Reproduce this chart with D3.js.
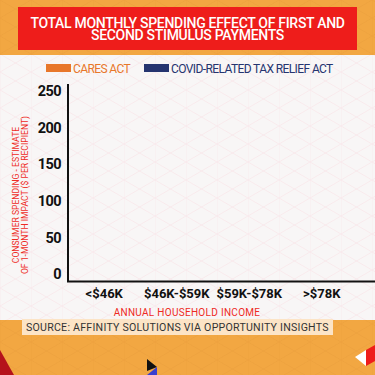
<!DOCTYPE html>
<html>
<head>
<meta charset="utf-8">
<script src="https://cdn.jsdelivr.net/npm/d3@7"></script>
<style>
  body { margin: 0; background: #f2a742; }
  svg { display: block; font-family: Roboto, "Noto Sans", sans-serif; }
</style>
</head>
<body>
<svg id="chart"></svg>
<script>
// chart data
const categories = ["<$46K", "$46K-$59K", "$59K-$78K", ">$78K"];
const seriesNames = ["CARES ACT", "COVID-RELATED TAX RELIEF ACT"];
const caresAct = [0, 0, 0, 0];
const taxReliefAct = [0, 0, 0, 0];
const yTicks = [0, 50, 100, 150, 200, 250];

const W = 375, H = 375;
const colors = ["#e8772a", "#25346f"];

const svg = d3.select("#chart").attr("width", W).attr("height", H);

// background patterns
const defs = svg.append("defs");
const pw = 31, ph = 18;
const pLight = defs.append("pattern").attr("id", "gridLight")
  .attr("patternUnits", "userSpaceOnUse").attr("width", pw).attr("height", ph);
pLight.append("rect").attr("width", pw).attr("height", ph).attr("fill", "#f8f6f6");
pLight.append("path").attr("d", `M0,0L${pw},${ph}M${pw},0L0,${ph}M0,0V${ph}`)
  .attr("stroke", "#f9e3e5").attr("stroke-width", 0.6).attr("fill", "none");

const pOrange = defs.append("pattern").attr("id", "gridOrange")
  .attr("patternUnits", "userSpaceOnUse").attr("width", pw).attr("height", ph);
pOrange.append("rect").attr("width", pw).attr("height", ph).attr("fill", "#f2a742");
pOrange.append("path").attr("d", `M0,0L${pw},${ph}M${pw},0L0,${ph}M0,0V${ph}`)
  .attr("stroke", "#eb9f3d").attr("stroke-width", 0.6).attr("fill", "none");

svg.append("rect").attr("width", W).attr("height", H).attr("fill", "url(#gridOrange)");
svg.append("rect").attr("y", 55).attr("width", W).attr("height", 265).attr("fill", "url(#gridLight)");

// title box
svg.append("rect").attr("x", 18).attr("y", 7).attr("width", 339).attr("height", 43).attr("fill", "#ee1d1b");
const title = svg.append("text").attr("x", 187.5).attr("text-anchor", "middle")
  .attr("fill", "#fff").attr("font-size", 14).attr("font-weight", 500)
  .attr("letter-spacing", -0.3);
title.append("tspan").attr("x", 187.5).attr("y", 27.5).text("TOTAL MONTHLY SPENDING EFFECT OF FIRST AND");
title.append("tspan").attr("x", 187.5).attr("y", 40).text("SECOND STIMULUS PAYMENTS");

// legend
const legendX = [46, 144];
seriesNames.forEach((name, i) => {
  svg.append("rect").attr("x", legendX[i]).attr("y", 64).attr("width", 25).attr("height", 8)
    .attr("fill", colors[i]);
  svg.append("text").attr("x", legendX[i] + 27).attr("y", 73)
    .attr("font-size", 12).attr("letter-spacing", -0.6).attr("fill", colors[i]).text(name);
});

// scales
const left = 68, right = 358;
const x0 = d3.scaleBand().domain(categories).range([left, right]).paddingInner(0.2).paddingOuter(0.1);
const x1 = d3.scaleBand().domain([0, 1]).range([0, x0.bandwidth()]);
const y = d3.scaleLinear().domain([0, 250]).range([274, 91]);

// bars
const groups = svg.append("g").selectAll("g").data(categories).join("g")
  .attr("transform", (d) => `translate(${x0(d)},0)`);
groups.selectAll("rect")
  .data((d, i) => [caresAct[i], taxReliefAct[i]])
  .join("rect")
  .attr("x", (d, j) => x1(j))
  .attr("width", x1.bandwidth())
  .attr("y", (d) => y(d))
  .attr("height", (d) => y(0) - y(d))
  .attr("fill", (d, j) => colors[j]);

// y axis
const yAxis = svg.append("g").attr("transform", `translate(${left},0)`)
  .call(d3.axisLeft(y).tickValues(yTicks).tickSize(0).tickPadding(7));
yAxis.select(".domain").remove();
yAxis.selectAll("text").attr("font-size", 14.5).attr("font-weight", 700)
  .attr("fill", "#111").attr("font-family", "Roboto, sans-serif").attr("letter-spacing", -0.6);

// axis lines
svg.append("path").attr("d", `M${left},84V281.5H${W}`)
  .attr("stroke", "#111").attr("stroke-width", 2).attr("fill", "none");

// x axis labels
const xAxis = svg.append("g").attr("transform", "translate(0,289)")
  .call(d3.axisBottom(x0).tickSize(0).tickPadding(0));
xAxis.select(".domain").remove();
xAxis.selectAll("text").attr("font-size", 13).attr("font-weight", 700)
  .attr("fill", "#111").attr("font-family", "Roboto, sans-serif").attr("dy", "0.71em");

// axis titles
svg.append("text").attr("x", 187).attr("y", 315.5).attr("text-anchor", "middle")
  .attr("font-size", 10).attr("fill", "#ee2a24").attr("letter-spacing", 0.3)
  .text("ANNUAL HOUSEHOLD INCOME");

const yTitle = svg.append("text").attr("transform", "translate(0,195) rotate(-90)")
  .attr("text-anchor", "middle").attr("font-size", 8.6).attr("fill", "#ee2a24");
yTitle.append("tspan").attr("x", 0).attr("y", 19).text("CONSUMER SPENDING - ESTIMATE");
yTitle.append("tspan").attr("x", 0).attr("y", 27.5).text("OF 1-MONTH IMPACT ($ PER RECIPIENT)");

// source box
svg.append("rect").attr("x", 22).attr("y", 319).attr("width", 311).attr("height", 16).attr("fill", "#fce4c6");
svg.append("text").attr("x", 26).attr("y", 331).attr("font-size", 10.6)
  .attr("fill", "#333").attr("letter-spacing", 0.25)
  .text("SOURCE: AFFINITY SOLUTIONS VIA OPPORTUNITY INSIGHTS");

// decorative triangles
svg.append("path").attr("d", "M0,350L14,375H0Z").attr("fill", "#b5121b");
svg.append("path").attr("d", "M147,359L157,367L147,371Z").attr("fill", "#111");
svg.append("path").attr("d", "M157,367L157,375H147Z").attr("fill", "#3a3fd0");
svg.append("path").attr("d", "M355,357L366,350V366Z").attr("fill", "#fff");
svg.append("path").attr("d", "M366,350L375,345V361L366,366Z").attr("fill", "#ee1d1b");
</script>
</body>
</html>
